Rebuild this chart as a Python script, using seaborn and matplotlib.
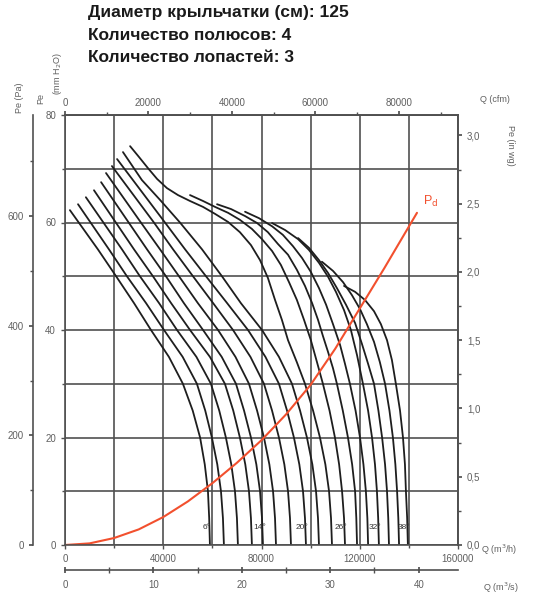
import numpy as np
import pandas as pd
import matplotlib
matplotlib.use("Agg")
import matplotlib.pyplot as plt
from matplotlib.ticker import FixedLocator, FuncFormatter
import seaborn as sns

# fan curves per blade angle: Q in thousand m3/h, Pe in mm H2O
q_06 = [2.0, 13.4, 20.8, 28.1, 35.0, 42.3, 48.0, 52.0, 55.0, 56.9, 58.2, 58.7, 59.0]
p_06 = [62.3, 55, 50, 45, 40, 35, 30, 25, 20, 15, 10, 5, 0]
q_08 = [5.3, 17.9, 25.2, 33.0, 40.3, 47.9, 53.7, 57.1, 59.8, 62.0, 63.5, 64.3, 64.7]
p_08 = [63.4, 55, 50, 45, 40, 35, 30, 25, 20, 15, 10, 5, 0]
q_10 = [8.5, 23.2, 30.5, 38.3, 45.6, 53.5, 59.4, 62.8, 65.5, 67.7, 69.2, 70.0, 70.4]
p_10 = [64.7, 55, 50, 45, 40, 35, 30, 25, 20, 15, 10, 5, 0]
q_12 = [11.8, 28.1, 35.8, 43.2, 50.9, 59.0, 65.1, 68.5, 71.2, 73.4, 74.9, 75.7, 76.1]
p_12 = [66.0, 55, 50, 45, 40, 35, 30, 25, 20, 15, 10, 5, 0]
q_14 = [14.7, 33.4, 41.1, 48.4, 56.2, 63.8, 69.6, 72.9, 75.7, 77.9, 79.4, 80.2, 80.6]
p_14 = [67.5, 55, 50, 45, 40, 35, 30, 25, 20, 15, 10, 5, 0]
q_16 = [16.7, 30.9, 38.7, 46.4, 54.1, 62.3, 69.4, 74.9, 78.2, 81.0, 83.2, 84.7, 85.5, 85.9]
p_16 = [69.2, 60, 55, 50, 45, 40, 35, 30, 25, 20, 15, 10, 5, 0]
q_18 = [19.1, 36.2, 44.0, 52.1, 60.3, 68.4, 75.5, 81.0, 84.3, 87.1, 89.3, 90.8, 91.6, 92.0]
p_18 = [70.5, 60, 55, 50, 45, 40, 35, 30, 25, 20, 15, 10, 5, 0]
q_20 = [21.2, 40.7, 48.9, 57.4, 66.0, 74.5, 81.6, 87.1, 90.4, 93.2, 95.4, 96.9, 97.7, 98.1]
p_20 = [71.8, 60, 55, 50, 45, 40, 35, 30, 25, 20, 15, 10, 5, 0]
q_22 = [23.6, 31.3, 38.7, 46.8, 55.8, 63.9, 71.6, 80.2, 87.1, 92.4, 95.7, 98.5,
        100.7, 102.2, 103.0, 103.4]
p_22 = [73.1, 67.9, 64.2, 60, 55, 50, 45, 40, 35, 30, 25, 20, 15, 10, 5, 0]
q_24 = [26.5, 30.1, 33.8, 37.5, 41.5, 46.0, 50.9, 56.2, 61.1, 66.4, 71.2, 75.7, 79.4,
        82.6, 85.5, 88.3, 90.8, 94.4, 97.7, 101.0, 103.8, 106.0, 107.5, 108.3, 108.7]
p_24 = [74.2, 72.2, 70.1, 68.1, 66.4, 65.1, 64.0, 62.9, 61.6, 60.1, 58.2, 55.8, 53.0,
        49.7, 45.6, 41.9, 38.1, 34.0, 30, 25, 20, 15, 10, 5, 0]
q_26 = [50.9, 56.2, 61.1, 66.4, 71.2, 76.1, 80.2, 84.3, 87.9, 91.2, 94.4, 97.3, 100.1,
        102.6, 105.0, 107.7, 109.9, 111.6, 112.8, 113.6, 114.0]
p_26 = [65.1, 64.0, 62.9, 61.8, 60.5, 58.8, 56.9, 54.7, 52.1, 48.9, 45.6, 41.9, 38.1,
        34.0, 30, 25, 20, 15, 10, 5, 0]
q_28 = [61.9, 67.6, 73.3, 78.2, 82.6, 86.7, 90.8, 94.4, 97.7, 100.6, 103.0, 105.0,
        107.1, 109.1, 110.7, 113.1, 115.2, 116.9, 118.1, 118.6, 118.9]
p_28 = [63.4, 62.5, 61.2, 59.9, 58.2, 56.0, 54.0, 51.2, 48.2, 45.0, 41.9, 38.9,
        35.9, 32.9, 30, 25, 20, 15, 10, 5, 0]
q_30 = [73.3, 79.0, 84.3, 88.7, 92.8, 96.5, 100.1, 103.4, 106.3, 109.1, 112.0, 114.0,
        116.0, 118.3, 120.1, 121.5, 122.5, 123.1, 123.4]
p_30 = [62.0, 60.8, 59.3, 57.7, 55.6, 53.4, 50.8, 47.8, 44.7, 41.1, 37.2, 33.7,
        30, 25, 20, 15, 10, 5, 0]
q_32 = [84.3, 89.6, 94.9, 99.3, 103.4, 107.1, 110.3, 113.6, 116.4, 118.9, 121.3,
        123.4, 125.0, 126.2, 127.0, 127.5, 127.8]
p_32 = [59.9, 58.6, 56.9, 54.9, 52.5, 49.9, 47.1, 43.7, 40.0, 35.3, 30,
        25, 20, 15, 10, 5, 0]
q_34 = [94.9, 99.3, 103.4, 107.1, 110.7, 114.4, 118.1, 120.9, 123.4, 125.8,
        127.6, 129.1, 130.3, 131.1, 131.6, 131.9]
p_34 = [57.1, 55.3, 53.0, 50.6, 47.8, 44.7, 41.3, 37.4, 33.7, 30,
        25, 20, 15, 10, 5, 0]
q_36 = [104.6, 109.1, 113.2, 116.8, 120.1, 122.9, 125.8, 128.2, 130.3,
        132.1, 133.5, 134.5, 135.2, 135.7, 136.0]
p_36 = [52.7, 51.0, 48.9, 46.5, 43.9, 41.1, 37.8, 34.0, 30,
        25, 20, 15, 10, 5, 0]
q_38 = [113.6, 118.1, 122.1, 125.8, 128.6, 131.1, 133.1, 134.7,
        136.4, 137.6, 138.4, 138.8, 139.3, 139.6]
p_38 = [48.2, 47.1, 45.6, 43.5, 41.1, 38.1, 34.4, 30,
        25, 20, 15, 10, 5, 0]

angles = [6, 8, 10, 12, 14, 16, 18, 20, 22, 24, 26, 28, 30, 32, 34, 36, 38]
curves_q = [q_06, q_08, q_10, q_12, q_14, q_16, q_18, q_20, q_22, q_24,
            q_26, q_28, q_30, q_32, q_34, q_36, q_38]
curves_p = [p_06, p_08, p_10, p_12, p_14, p_16, p_18, p_20, p_22, p_24,
            p_26, p_28, p_30, p_32, p_34, p_36, p_38]
labelled = [6, 14, 20, 26, 32, 38]

# dynamic pressure Pd
pd_q = [0, 10, 20, 30, 40, 50, 60, 70, 80, 90, 100, 110, 120, 130, 143.3]
pd_p = [0, 0.3, 1.3, 2.9, 5.2, 8.1, 11.5, 15.3, 19.5, 24.3, 29.8, 36.5, 44.0, 51.5, 61.8]

# tick values of the five scales
ticks_m3h = [0, 40000, 80000, 120000, 160000]
grid_m3h = [20000, 60000, 100000, 140000]
ticks_mm = [0, 20, 40, 60, 80]
grid_mm = [10, 30, 50, 70]
ticks_cfm = [0, 20000, 40000, 60000, 80000]
minor_cfm = [10000, 30000, 50000, 70000, 90000]
ticks_m3s = [0, 10, 20, 30, 40]
minor_m3s = [5, 15, 25, 35]
ticks_pa = [0, 200, 400, 600]
minor_pa = [100, 300, 500, 700]
ticks_inwg = [0, 0.5, 1.0, 1.5, 2.0, 2.5, 3.0]
minor_inwg = [0.25, 0.75, 1.25, 1.75, 2.25, 2.75]

title_lines = ["Диаметр крыльчатки (см): 125",
               "Количество полюсов: 4",
               "Количество лопастей: 3"]

sns.set_theme(style="white")
plt.rcParams["font.family"] = ["Liberation Sans", "DejaVu Sans"]

rows = []
for a, qs, ps in zip(angles, curves_q, curves_p):
    for q, p in zip(qs, ps):
        rows.append({"angle": a, "Q": q * 1000, "P": p})
df = pd.DataFrame(rows)

W, H = 533, 599
fig = plt.figure(figsize=(W / 100, H / 100), dpi=100)
ax = fig.add_axes([65 / W, 1 - 545 / H, 393 / W, 430 / H])

grid_c = "#505050"
txt_c = "#606060"
red = "#f2502e"

sns.lineplot(data=df, x="Q", y="P", units="angle", estimator=None, sort=False,
             color="#1e1e1e", lw=1.3, ax=ax, legend=False)
sns.lineplot(x=np.array(pd_q) * 1000, y=pd_p, sort=False, color=red, lw=1.5, ax=ax)

ax.set_xlim(0, 160000)
ax.set_ylim(0, 80)
ax.set_xlabel("")
ax.set_ylabel("")
ax.xaxis.set_major_locator(FixedLocator(ticks_m3h))
ax.xaxis.set_minor_locator(FixedLocator(grid_m3h))
ax.yaxis.set_major_locator(FixedLocator(ticks_mm))
ax.yaxis.set_minor_locator(FixedLocator(grid_mm))
ax.grid(which="both", color=grid_c, lw=1.2)
ax.tick_params(which="both", direction="out", colors=grid_c, labelcolor=txt_c,
               labelsize=7, length=3, width=1, left=True, bottom=True)
ax.tick_params(which="minor", length=2)
for s in ax.spines.values():
    s.set_color(grid_c)
    s.set_linewidth(1.2)


def style_sec(sec, major, minor, spine, **kw):
    axis = sec.xaxis if spine in ("top", "bottom") else sec.yaxis
    axis.set_major_locator(FixedLocator(major))
    axis.set_minor_locator(FixedLocator(minor))
    sec.tick_params(which="both", colors=grid_c, labelcolor=txt_c, labelsize=7, **kw)
    sec.tick_params(which="minor", length=kw.get("length", 3) - 1)
    sec.spines[spine].set_color(grid_c)
    sec.spines[spine].set_linewidth(1.2)


# top axis: cfm
top = ax.secondary_xaxis("top", functions=(lambda x: x / 1.699, lambda x: x * 1.699))
style_sec(top, ticks_cfm, minor_cfm, "top", direction="out", length=3, pad=2)

# bottom second axis: m3/s
low = ax.secondary_xaxis(-0.058, functions=(lambda x: x / 3600, lambda x: x * 3600))
style_sec(low, ticks_m3s, minor_m3s, "bottom", direction="inout", length=5, pad=5)

# outer left axis: Pa
pa = ax.secondary_yaxis(-0.0814, functions=(lambda y: y * 9.80665, lambda y: y / 9.80665))
style_sec(pa, ticks_pa, minor_pa, "left", direction="out", length=3)

# right axis: in wg
iw = ax.secondary_yaxis("right", functions=(lambda y: y / 25.4, lambda y: y * 25.4))
style_sec(iw, ticks_inwg, minor_inwg, "right", direction="out", length=3)
iw.yaxis.set_major_formatter(FuncFormatter(lambda v, _: f"{v:.1f}".replace(".", ",")))

# angle labels at the foot of the curves
for a in labelled:
    i = angles.index(a)
    ax.text(curves_q[i][-1] * 1000 - 1500, 3.3, f"{a}°", ha="center", va="center",
            fontsize=6, color="#333333")

ax.annotate(r"P$_\mathrm{d}$", xy=(pd_q[-1] * 1000, pd_p[-1]), xytext=(4, 3),
            textcoords="offset points", color=red, fontsize=9, va="bottom")

# axis titles
fig.text(19 / W, 1 - 113 / H, "Pe (Pa)", rotation=90, ha="center", va="bottom",
         fontsize=6.5, color=txt_c)
fig.text(41 / W, 1 - 104 / H, "Pe", rotation=90, ha="center", va="bottom",
         fontsize=6.5, color=txt_c)
fig.text(57 / W, 1 - 95 / H, "(mm H$_2$O)", rotation=90, ha="center", va="bottom",
         fontsize=6.5, color=txt_c)
fig.text(480 / W, 1 - 100 / H, "Q (cfm)", ha="left", va="center", fontsize=6.5, color=txt_c)
fig.text(511 / W, 1 - 145 / H, "Pe (in wg)", rotation=270, ha="center", va="center",
         fontsize=6.5, color=txt_c)
fig.text(481 / W, 1 - 550 / H, "Q (m$^3$/h)", ha="left", va="center", fontsize=6.5, color=txt_c)
fig.text(483 / W, 1 - 588 / H, "Q (m$^3$/s)", ha="left", va="center", fontsize=6.5, color=txt_c)

for i, line in enumerate(title_lines):
    fig.text(88 / W, 1 - (13 + 22 * i) / H, line, ha="left", va="center",
             fontsize=12.5, fontweight="bold", color="#1a1a1a")

fig.savefig("out.png", dpi=100)
